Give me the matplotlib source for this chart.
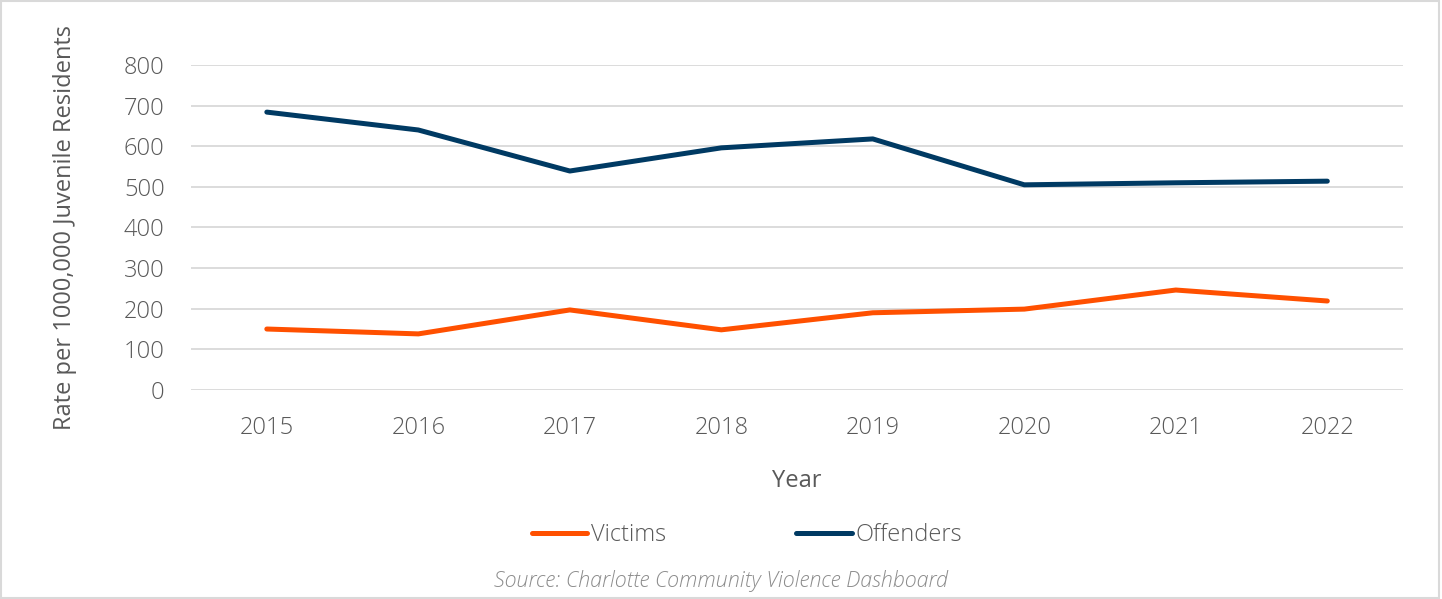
import matplotlib.pyplot as plt
from matplotlib.patches import Rectangle

years = ['2015', '2016', '2017', '2018', '2019', '2020', '2021', '2022']
victims = [150, 138, 197, 148, 190, 199, 246, 219]
offenders = [684, 640, 539, 596, 618, 505, 510, 514]

plt.rcParams['font.family'] = ['Open Sans', 'DejaVu Sans']
plt.rcParams['font.weight'] = 'light'

fig = plt.figure(figsize=(14.42, 5.99), dpi=100)
ax = fig.add_axes([0.1325, 0.349, 0.8405, 0.5425])

x = range(len(years))
ax.plot(x, victims, color='#FF5000', linewidth=3.6, solid_capstyle='round',
        solid_joinstyle='round', label='Victims')
ax.plot(x, offenders, color='#003A63', linewidth=3.6, solid_capstyle='round',
        solid_joinstyle='round', label='Offenders')

ax.set_xlim(-0.5, len(years) - 0.5)
ax.set_ylim(0, 800)
ax.set_yticks(range(0, 801, 100))
ax.set_xticks(list(x))
ax.set_xticklabels(years)
ax.grid(axis='y', color='#D9D9D9', linewidth=1.3)
ax.set_axisbelow(True)
for s in ax.spines.values():
    s.set_visible(False)
ax.tick_params(length=0, labelsize=17, colors='#595959')
ax.tick_params(axis='y', pad=19)
ax.tick_params(axis='x', pad=18.5)

ax.set_xlabel('Year', fontsize=17, color='#595959', labelpad=21)
ax.set_ylabel('Rate per 1000,000 Juvenile Residents', fontsize=17,
              color='#595959', labelpad=33.5)

leg = fig.legend(loc='center', bbox_to_anchor=(0.518, 0.107), ncol=2,
                 frameon=False, fontsize=17, handlelength=2.35,
                 handletextpad=0.17, columnspacing=5.5)
for t in leg.get_texts():
    t.set_color('#595959')

fig.text(0.5, 0.03, 'Source: Charlotte Community Violence Dashboard',
         ha='center', va='center', fontsize=15.5, style='italic',
         color='#8C8C8C')

fig.patches.append(Rectangle((0.001, 0.002), 0.997, 0.996, transform=fig.transFigure,
                             fill=False, edgecolor='#D9D9D9', linewidth=1.5))

fig.savefig('out.png', dpi=100)
